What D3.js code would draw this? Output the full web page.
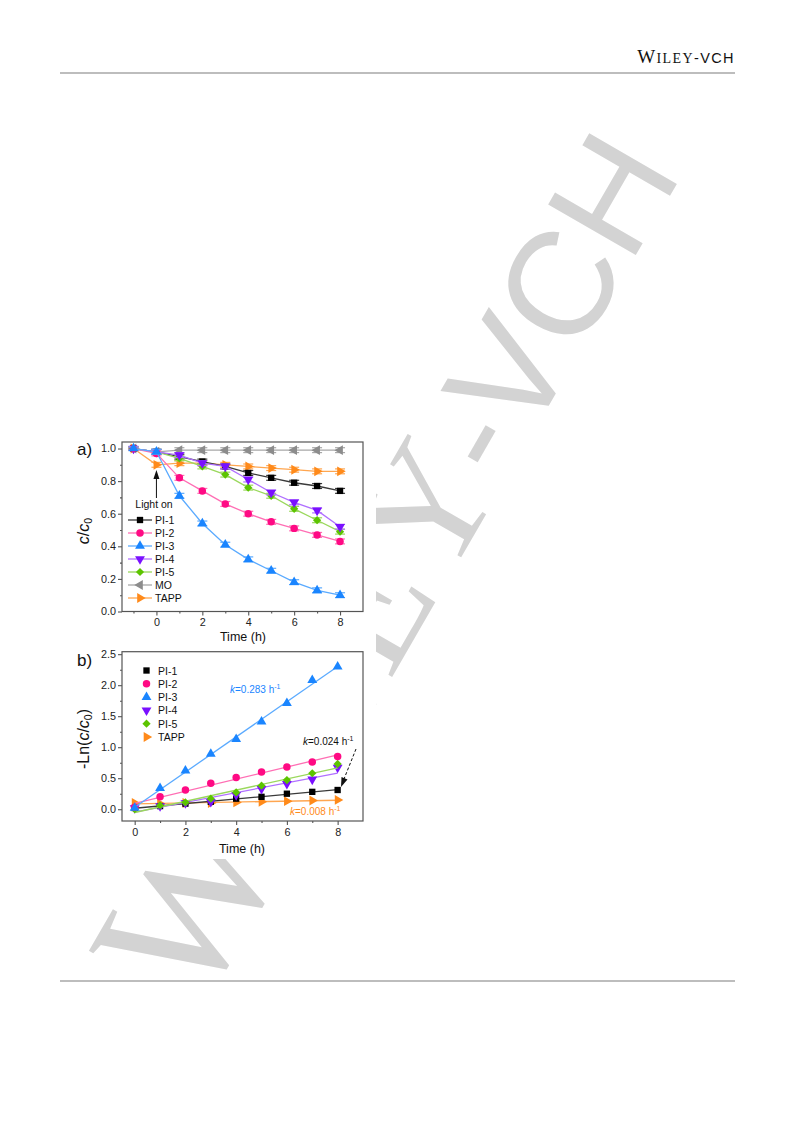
<!DOCTYPE html>
<html><head><meta charset="utf-8">
<script src="https://cdn.jsdelivr.net/npm/d3@7"></script>
<style>
html,body{margin:0;padding:0;background:#fff;}
svg{display:block;}
text{font-family:"Liberation Sans",Arial,sans-serif;}
</style></head>
<body>
<svg id="c" width="793" height="1123"></svg>
<script>
// ---------- data: panel a (c/c0 vs time) ----------
const timeA = [-1, 0, 1, 2, 3, 4, 5, 6, 7, 8];
const seriesNames = ["PI-1", "PI-2", "PI-3", "PI-4", "PI-5", "MO", "TAPP"];
const pi1A  = [1.00, 0.98, 0.95, 0.92, 0.89, 0.85, 0.82, 0.79, 0.77, 0.74];
const pi2A  = [1.00, 0.97, 0.82, 0.74, 0.66, 0.60, 0.55, 0.51, 0.47, 0.43];
const pi3A  = [1.00, 0.98, 0.71, 0.54, 0.41, 0.32, 0.25, 0.18, 0.13, 0.10];
const pi4A  = [1.00, 0.98, 0.96, 0.91, 0.89, 0.81, 0.73, 0.67, 0.62, 0.52];
const pi5A  = [1.00, 0.98, 0.94, 0.89, 0.84, 0.76, 0.71, 0.63, 0.56, 0.49];
const moA   = [1.00, 0.98, 0.99, 0.99, 0.99, 0.99, 0.99, 0.99, 0.99, 0.99];
const tappA = [1.00, 0.90, 0.91, 0.91, 0.90, 0.89, 0.88, 0.87, 0.86, 0.86];
const errA  = [0.010, 0.015, 0.015, 0.015, 0.015, 0.015, 0.015, 0.015, 0.015, 0.015];
const xTicksA = [0, 2, 4, 6, 8];
const yTicksA = [0.0, 0.2, 0.4, 0.6, 0.8, 1.0];

// ---------- data: panel b (-ln(c/c0) vs time) ----------
const timeB = [0, 1, 2, 3, 4, 5, 6, 7, 8];
const namesB = ["PI-1", "PI-2", "PI-3", "PI-4", "PI-5", "TAPP"];
const pi1B  = [0.02, 0.05, 0.09, 0.12, 0.17, 0.20, 0.25, 0.28, 0.31];
const pi2B  = [0.03, 0.20, 0.31, 0.42, 0.51, 0.60, 0.68, 0.76, 0.85];
const pi3B  = [0.02, 0.34, 0.62, 0.89, 1.13, 1.41, 1.71, 2.08, 2.30];
const pi4B  = [0.02, 0.05, 0.10, 0.12, 0.23, 0.33, 0.41, 0.48, 0.67];
const pi5B  = [0.00, 0.06, 0.11, 0.17, 0.27, 0.38, 0.47, 0.58, 0.73];
const tappB = [0.10, 0.09, 0.10, 0.10, 0.11, 0.12, 0.13, 0.14, 0.15];
const xTicksB = [0, 2, 4, 6, 8];
const yTicksB = [0.0, 0.5, 1.0, 1.5, 2.0, 2.5];
const rateLabels = ["0.283", "0.024", "0.008"];

// ---------- styles ----------
const markColor = {"PI-1":"#000000","PI-2":"#ff0a84","PI-3":"#1a85ff","PI-4":"#7a10ff","PI-5":"#5cc400","MO":"#8c8c8c","TAPP":"#ff8a1a"};
const lineColor = {"PI-1":"#3a3a3a","PI-2":"#ff6eb4","PI-3":"#5aaaff","PI-4":"#b070ff","PI-5":"#9ad85c","MO":"#a8a8a8","TAPP":"#ffa650"};
const symType = {"PI-1":[d3.symbolSquare,0],"PI-2":[d3.symbolCircle,0],"PI-3":[d3.symbolTriangle,0],"PI-4":[d3.symbolTriangle,180],"PI-5":[d3.symbolSquare,45],"MO":[d3.symbolTriangle,-90],"TAPP":[d3.symbolTriangle,90]};
const symSize = {"PI-1":40,"PI-2":44,"PI-3":42,"PI-4":42,"PI-5":34,"MO":42,"TAPP":42};

const svg = d3.select("#c");

// ---------- page decorations ----------
const hdr = svg.append("text").attr("x", 735).attr("y", 63).attr("text-anchor","end").attr("fill","#111").attr("letter-spacing",1.4);
hdr.append("tspan").style("font-family","'Liberation Serif',serif").style("font-size","19px").text("W");
hdr.append("tspan").style("font-family","'Liberation Serif',serif").style("font-size","14px").text("ILEY");
hdr.append("tspan").style("font-family","'Liberation Sans',sans-serif").style("font-size","14.5px").text("-VCH");
svg.append("line").attr("x1",60).attr("x2",735).attr("y1",73).attr("y2",73).attr("stroke","#bdbdbd").attr("stroke-width",2);
svg.append("line").attr("x1",60).attr("x2",735).attr("y1",981).attr("y2",981).attr("stroke","#bdbdbd").attr("stroke-width",2);

// watermark: letters laid along a baseline rotated -60 degrees
const wm = svg.append("g").attr("transform","rotate(-60)").attr("fill","#d3d3d3");
const serif = "'Liberation Serif',serif", sans = "'Liberation Sans',sans-serif";
[["W",-779,192,serif],["I",-582,165,serif],["L",-511,165,serif],["E",-395,165,serif],["Y",-287,165,serif],
 ["-",-168,147,sans],["V",-119,147,sans],["C",-21,147,sans],["H",85,147,sans]].forEach(([ch,u,fs,ff])=>{
  wm.append("text").attr("x",u).attr("y",678).style("font-size",fs+"px").style("font-family",ff).text(ch);
});

// figure background (figure image covers watermark)
svg.append("rect").attr("x",70).attr("y",432).attr("width",306).attr("height",427).attr("fill","#fff");

function sym(name){
  const [t, r] = symType[name];
  return {d: d3.symbol().type(t).size(symSize[name])(), r};
}

function frame(g, x0, y0, x1, y1){
  g.append("rect").attr("x",x0).attr("y",y0).attr("width",x1-x0).attr("height",y1-y0)
    .attr("fill","none").attr("stroke","#555").attr("stroke-width",1.2);
}

function axes(g, x, y, xt, xmin, yt, ymin, fmtY){
  const [ry0] = y.range();
  const [rx0] = x.range();
  const ax = g.append("g").attr("transform",`translate(0,${ry0})`)
    .call(d3.axisBottom(x).tickValues(xt).tickSize(4).tickPadding(3).tickFormat(d3.format("d")));
  const axm = g.append("g").attr("transform",`translate(0,${ry0})`)
    .call(d3.axisBottom(x).tickValues(xmin).tickSize(2).tickFormat(""));
  const ay = g.append("g").attr("transform",`translate(${rx0},0)`)
    .call(d3.axisLeft(y).tickValues(yt).tickSize(4).tickPadding(2).tickFormat(fmtY));
  const aym = g.append("g").attr("transform",`translate(${rx0},0)`)
    .call(d3.axisLeft(y).tickValues(ymin).tickSize(2).tickFormat(""));
  [ax,axm,ay,aym].forEach(a=>{
    a.select(".domain").remove();
    a.selectAll("line").attr("stroke","#555").attr("stroke-width",1.1);
    a.selectAll("text").attr("fill","#222").style("font-size","10.8px").style("font-family","'Liberation Sans',Arial,sans-serif");
  });
}

// ---------- panel a ----------
const ga = svg.append("g");
const xA = d3.scaleLinear().domain([-1.5, 9]).range([122, 363]);
const yA = d3.scaleLinear().domain([0, 1.04]).range([611.5, 442]);
const dataA = {"PI-1":pi1A,"PI-2":pi2A,"PI-3":pi3A,"PI-4":pi4A,"PI-5":pi5A,"MO":moA,"TAPP":tappA};
const drawOrderA = ["MO","TAPP","PI-1","PI-5","PI-4","PI-2","PI-3"];
axes(ga, xA, yA, xTicksA, [-1,1,3,5,7], yTicksA, [0.1,0.3,0.5,0.7,0.9], d3.format(".1f"));
drawOrderA.forEach(name=>{
  const vals = dataA[name];
  const pts = timeA.map((t,i)=>[t, vals[i], errA[i]]);
  ga.append("path").datum(pts).attr("fill","none").attr("stroke",lineColor[name]).attr("stroke-width",1.3)
    .attr("d", d3.line().x(d=>xA(d[0])).y(d=>yA(d[1])));
  const eg = ga.append("g").attr("stroke",lineColor[name]).attr("stroke-width",1.2);
  pts.forEach(d=>{
    const cx = xA(d[0]);
    eg.append("line").attr("x1",cx).attr("x2",cx).attr("y1",yA(d[1]-d[2])).attr("y2",yA(d[1]+d[2]));
    eg.append("line").attr("x1",cx-5).attr("x2",cx+5).attr("y1",yA(d[1]-d[2])).attr("y2",yA(d[1]-d[2]));
    eg.append("line").attr("x1",cx-5).attr("x2",cx+5).attr("y1",yA(d[1]+d[2])).attr("y2",yA(d[1]+d[2]));
  });
  const s = sym(name);
  ga.append("g").selectAll("path").data(pts).join("path").attr("d",s.d).attr("fill",markColor[name])
    .attr("transform",d=>`translate(${xA(d[0])},${yA(d[1])}) rotate(${s.r})`);
});
frame(ga, 122, 442, 363, 611.5);
seriesNames.forEach((name,i)=>{
  const yy = 520 + i*13;
  ga.append("line").attr("x1",128).attr("x2",152).attr("y1",yy).attr("y2",yy).attr("stroke",lineColor[name]).attr("stroke-width",1.3);
  const s = sym(name);
  ga.append("path").attr("d",s.d).attr("fill",markColor[name]).attr("transform",`translate(140,${yy}) rotate(${s.r})`);
  ga.append("text").attr("x",155).attr("y",yy+4).style("font-size","10.5px").attr("fill","#111").text(name);
});
ga.append("text").attr("x",154).attr("y",507.5).attr("text-anchor","middle").style("font-size","10.5px").attr("fill","#111").text("Light on");
ga.append("line").attr("x1",xA(0)).attr("x2",xA(0)).attr("y1",498).attr("y2",477).attr("stroke","#111").attr("stroke-width",1);
ga.append("path").attr("d",`M${xA(0)},470 L${xA(0)-3},479 L${xA(0)+3},479 Z`).attr("fill","#111");
ga.append("text").attr("x",77).attr("y",455).style("font-size","17px").attr("fill","#111").text("a)");
const yla = ga.append("text").attr("transform","translate(89,531) rotate(-90)").attr("text-anchor","middle").style("font-size","16px").attr("fill","#111");
yla.append("tspan").style("font-style","italic").text("c");
yla.append("tspan").text("/");
yla.append("tspan").style("font-style","italic").text("c");
yla.append("tspan").attr("dy",3).style("font-size","10.5px").text("0");
ga.append("text").attr("x",243).attr("y",641).attr("text-anchor","middle").style("font-size","12.5px").attr("fill","#111").text("Time (h)");

// ---------- panel b ----------
const gb = svg.append("g");
const xB = d3.scaleLinear().domain([-0.5, 9]).range([122, 363]);
const yB = d3.scaleLinear().domain([-0.19, 2.54]).range([821, 651.7]);
const dataB = {"PI-1":pi1B,"PI-2":pi2B,"PI-3":pi3B,"PI-4":pi4B,"PI-5":pi5B,"TAPP":tappB};
axes(gb, xB, yB, xTicksB, [1,3,5,7], yTicksB, [0.25,0.75,1.25,1.75,2.25], d3.format(".1f"));
const drawOrderB = ["TAPP","PI-1","PI-4","PI-5","PI-2","PI-3"];
drawOrderB.forEach(name=>{
  const vals = dataB[name];
  const pts = timeB.map((t,i)=>[t, vals[i]]);
  const mx = d3.mean(timeB), my = d3.mean(vals);
  const sxy = d3.sum(timeB, (t,i)=>(t-mx)*(vals[i]-my));
  const sxx = d3.sum(timeB, t=>(t-mx)*(t-mx));
  const k = sxy/sxx, b0 = my - k*mx;
  const ends = d3.extent(timeB);
  gb.append("line").attr("x1",xB(ends[0])).attr("x2",xB(ends[1]))
    .attr("y1",yB(b0+k*ends[0])).attr("y2",yB(b0+k*ends[1]))
    .attr("stroke",lineColor[name]).attr("stroke-width",1.3);
  const s = sym(name);
  gb.append("g").selectAll("path").data(pts).join("path").attr("d",s.d).attr("fill",markColor[name])
    .attr("transform",d=>`translate(${xB(d[0])},${yB(d[1])}) rotate(${s.r})`);
});
frame(gb, 122, 651.7, 363, 821);
namesB.forEach((name,i)=>{
  const yy = 670.5 + i*13.3;
  const s = sym(name);
  gb.append("path").attr("d",s.d).attr("fill",markColor[name]).attr("transform",`translate(146.5,${yy}) rotate(${s.r})`);
  gb.append("text").attr("x",158).attr("y",yy+4).style("font-size","10.5px").attr("fill","#111").text(name);
});
function rateText(x, y, val, color){
  const t = gb.append("text").attr("x",x).attr("y",y).style("font-size","10px").attr("fill",color);
  t.append("tspan").style("font-style","italic").text("k");
  t.append("tspan").text("=" + val + " h");
  t.append("tspan").attr("dy",-4).style("font-size","7px").text("-1");
}
rateText(230, 693, rateLabels[0], markColor["PI-3"]);
rateText(303, 745, rateLabels[1], "#111");
rateText(290, 815, rateLabels[2], markColor["TAPP"]);
gb.append("line").attr("x1",356).attr("y1",749).attr("x2",344).attr("y2",779)
  .attr("stroke","#111").attr("stroke-width",1).attr("stroke-dasharray","3,2");
gb.append("path").attr("d","M341,787 L341.5,777 L347.5,779.5 Z").attr("fill","#111");
gb.append("text").attr("x",77).attr("y",666).style("font-size","17px").attr("fill","#111").text("b)");
const ylb = gb.append("text").attr("transform","translate(89,739) rotate(-90)").attr("text-anchor","middle").style("font-size","16px").attr("fill","#111");
ylb.append("tspan").text("-Ln(");
ylb.append("tspan").style("font-style","italic").text("c");
ylb.append("tspan").text("/");
ylb.append("tspan").style("font-style","italic").text("c");
ylb.append("tspan").attr("dy",3).style("font-size","10.5px").text("0");
ylb.append("tspan").attr("dy",-3).text(")");
gb.append("text").attr("x",242).attr("y",853).attr("text-anchor","middle").style("font-size","12.5px").attr("fill","#111").text("Time (h)");
</script>
</body></html>
